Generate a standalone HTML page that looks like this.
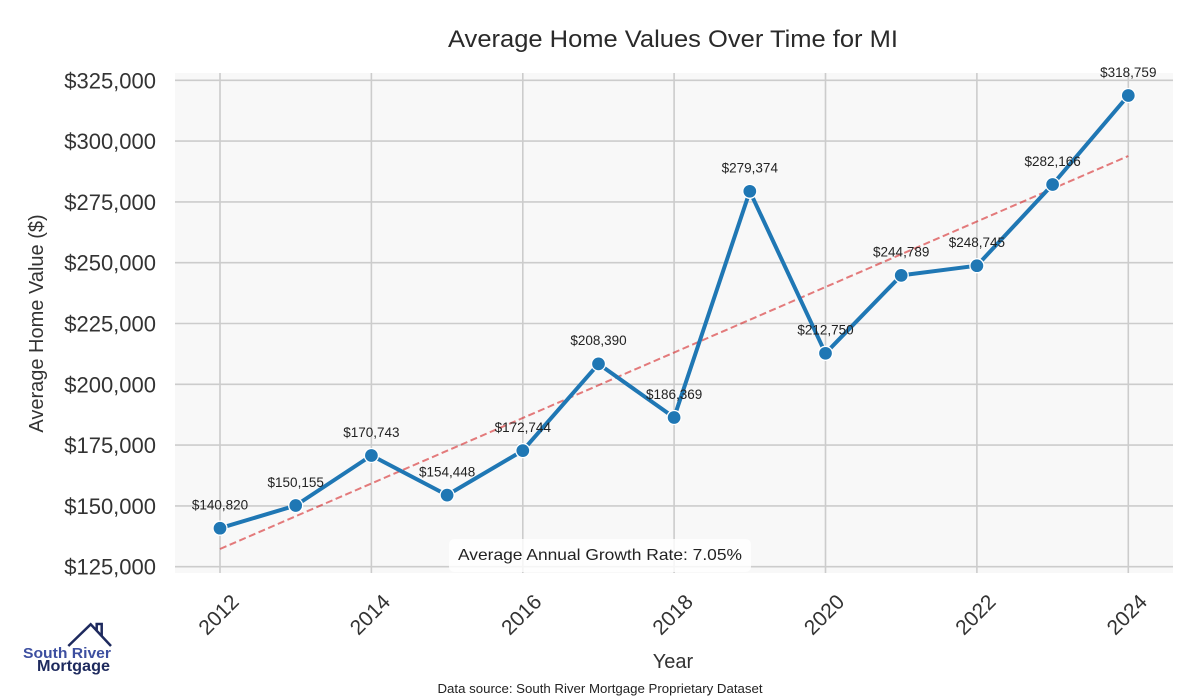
<!DOCTYPE html>
<html>
<head>
<meta charset="utf-8">
<style>
  html, body { margin: 0; padding: 0; background: #ffffff; }
  svg { display: block; }
  text { font-family: "Liberation Sans", "DejaVu Sans", sans-serif; }
</style>
</head>
<body>
<svg width="1200" height="700" viewBox="0 0 1200 700" xmlns="http://www.w3.org/2000/svg">
  <rect x="0" y="0" width="1200" height="700" fill="#ffffff"/>

  <!-- Title -->
  <text x="673" y="47" font-size="24" fill="#2a2a2a" text-anchor="middle" textLength="450" lengthAdjust="spacingAndGlyphs">Average Home Values Over Time for MI</text>

  <!-- Plot background -->
  <rect x="175" y="73" width="998" height="500" fill="#f8f8f8"/>

  <!-- Horizontal grid -->
  <g stroke="#cccccc" stroke-width="1.6">
    <line x1="175" x2="1173" y1="566.7" y2="566.7"/>
    <line x1="175" x2="1173" y1="505.9" y2="505.9"/>
    <line x1="175" x2="1173" y1="445.1" y2="445.1"/>
    <line x1="175" x2="1173" y1="384.3" y2="384.3"/>
    <line x1="175" x2="1173" y1="323.5" y2="323.5"/>
    <line x1="175" x2="1173" y1="262.7" y2="262.7"/>
    <line x1="175" x2="1173" y1="201.9" y2="201.9"/>
    <line x1="175" x2="1173" y1="141.1" y2="141.1"/>
    <line x1="175" x2="1173" y1="80.3" y2="80.3"/>
  </g>
  <!-- Vertical grid -->
  <g stroke="#cccccc" stroke-width="1.6">
    <line x1="220" x2="220" y1="73" y2="573"/>
    <line x1="371.4" x2="371.4" y1="73" y2="573"/>
    <line x1="522.8" x2="522.8" y1="73" y2="573"/>
    <line x1="674.1" x2="674.1" y1="73" y2="573"/>
    <line x1="825.5" x2="825.5" y1="73" y2="573"/>
    <line x1="976.9" x2="976.9" y1="73" y2="573"/>
    <line x1="1128.3" x2="1128.3" y1="73" y2="573"/>
  </g>

  <!-- Y tick labels -->
  <g font-size="22" fill="#333333" text-anchor="end">
    <text x="156" y="574.7">$125,000</text>
    <text x="156" y="513.9">$150,000</text>
    <text x="156" y="453.1">$175,000</text>
    <text x="156" y="392.3">$200,000</text>
    <text x="156" y="331.5">$225,000</text>
    <text x="156" y="270.7">$250,000</text>
    <text x="156" y="209.9">$275,000</text>
    <text x="156" y="149.1">$300,000</text>
    <text x="156" y="88.3">$325,000</text>
  </g>

  <!-- Y axis label -->
  <text x="43" y="323.5" font-size="20" fill="#333333" text-anchor="middle" transform="rotate(-90 43 323.5)">Average Home Value ($)</text>

  <!-- X tick labels -->
  <g font-size="21" fill="#333333" text-anchor="middle" dominant-baseline="central">
    <text x="219" y="615" transform="rotate(-45 219 615)">2012</text>
    <text x="370.4" y="615" transform="rotate(-45 370.4 615)">2014</text>
    <text x="521.8" y="615" transform="rotate(-45 521.8 615)">2016</text>
    <text x="673.1" y="615" transform="rotate(-45 673.1 615)">2018</text>
    <text x="824.5" y="615" transform="rotate(-45 824.5 615)">2020</text>
    <text x="975.9" y="615" transform="rotate(-45 975.9 615)">2022</text>
    <text x="1127.3" y="615" transform="rotate(-45 1127.3 615)">2024</text>
  </g>

  <!-- X axis label -->
  <text x="673" y="668" font-size="20" fill="#333333" text-anchor="middle">Year</text>

  <!-- Trend line -->
  <line x1="220" y1="549" x2="1128.3" y2="156" stroke="#d62728" stroke-opacity="0.6" stroke-width="2" stroke-dasharray="7,3.5"/>

  <!-- Data line -->
  <polyline fill="none" stroke="#1f77b4" stroke-width="4" stroke-linejoin="round" stroke-linecap="round"
    points="220,528.2 295.7,505.5 371.4,455.5 447.1,495.1 522.8,450.6 598.5,363.9 674.1,417.5 749.8,191.3 825.5,353.3 901.2,275.4 976.9,265.7 1052.6,184.5 1128.3,95.5"/>

  <!-- Markers -->
  <g fill="#1f77b4" stroke="#ffffff" stroke-width="1.3">
    <circle cx="220" cy="528.2" r="7"/>
    <circle cx="295.7" cy="505.5" r="7"/>
    <circle cx="371.4" cy="455.5" r="7"/>
    <circle cx="447.1" cy="495.1" r="7"/>
    <circle cx="522.8" cy="450.6" r="7"/>
    <circle cx="598.5" cy="363.9" r="7"/>
    <circle cx="674.1" cy="417.5" r="7"/>
    <circle cx="749.8" cy="191.3" r="7"/>
    <circle cx="825.5" cy="353.3" r="7"/>
    <circle cx="901.2" cy="275.4" r="7"/>
    <circle cx="976.9" cy="265.7" r="7"/>
    <circle cx="1052.6" cy="184.5" r="7"/>
    <circle cx="1128.3" cy="95.5" r="7"/>
  </g>

  <!-- Data labels -->
  <g font-size="13.5" fill="#222222" text-anchor="middle">
    <text x="220" y="509.5">$140,820</text>
    <text x="295.7" y="486.8">$150,155</text>
    <text x="371.4" y="436.8">$170,743</text>
    <text x="447.1" y="476.4">$154,448</text>
    <text x="522.8" y="431.9">$172,744</text>
    <text x="598.5" y="345.2">$208,390</text>
    <text x="674.1" y="398.8">$186,369</text>
    <text x="749.8" y="172.6">$279,374</text>
    <text x="825.5" y="334.6">$212,750</text>
    <text x="901.2" y="256.7">$244,789</text>
    <text x="976.9" y="247">$248,745</text>
    <text x="1052.6" y="165.8">$282,166</text>
    <text x="1128.3" y="76.8">$318,759</text>
  </g>

  <!-- Growth annotation -->
  <rect x="449" y="539" width="302" height="33" rx="5" ry="5" fill="#ffffff" fill-opacity="0.8"/>
  <text x="600" y="560" font-size="16" fill="#222222" text-anchor="middle" textLength="284" lengthAdjust="spacingAndGlyphs">Average Annual Growth Rate: 7.05%</text>

  <!-- Data source -->
  <text x="600" y="693" font-size="13" fill="#222222" text-anchor="middle" textLength="325" lengthAdjust="spacingAndGlyphs">Data source: South River Mortgage Proprietary Dataset</text>

  <!-- Logo -->
  <g fill="none" stroke="#1e2a5e" stroke-width="2.5" stroke-linejoin="miter">
    <polyline points="68.3,646 90.7,624.3 111,646"/>
    <polyline points="96.7,630 96.7,624 101.7,624 101.7,636"/>
  </g>
  <text x="23" y="658" font-size="15" font-weight="bold" fill="#3d4fa0" textLength="88" lengthAdjust="spacingAndGlyphs">South River</text>
  <text x="37" y="671" font-size="16" font-weight="bold" fill="#1e2a5e" textLength="73" lengthAdjust="spacingAndGlyphs">Mortgage</text>
</svg>
</body>
</html>
